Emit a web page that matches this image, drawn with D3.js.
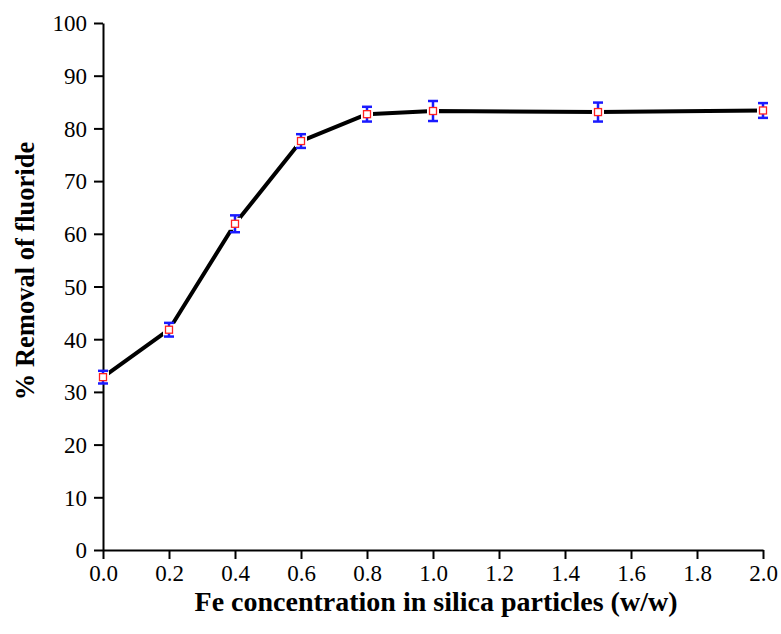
<!DOCTYPE html>
<html>
<head>
<meta charset="utf-8">
<script src="https://cdnjs.cloudflare.com/ajax/libs/d3/7.8.5/d3.min.js"></script>
<style>
body { margin: 0; background: #fff; }
svg text { font-family: "Liberation Serif", "Times New Roman", serif; }
</style>
</head>
<body>
<script>
var w = 781, h = 634;
var margin = {"left": 103, "right": 18, "top": 23, "bottom": 84};

var feConc = [0.0, 0.2, 0.4, 0.6, 0.8, 1.0, 1.5, 2.0];
var removal = [32.8, 41.8, 61.9, 77.6, 82.7, 83.3, 83.1, 83.4];
var errors = [1.2, 1.3, 1.6, 1.3, 1.4, 1.9, 1.8, 1.4];
var xTicks = [0, 0.2, 0.4, 0.6, 0.8, 1.0, 1.2, 1.4, 1.6, 1.8, 2.0];
var yTicks = [0, 10, 20, 30, 40, 50, 60, 70, 80, 90, 100];

var svg = d3.select("body")
            .append("svg")
            .attr("width", w)
            .attr("height", h);

var xScale = d3.scaleLinear()
                .domain([0, 2])
                .range([margin.left, w - margin.right]);
var yScale = d3.scaleLinear()
                .domain([0, 100])
                .range([h - margin.bottom, margin.top]);

var xAxis = d3.axisBottom(xScale)
                .tickValues(xTicks)
                .tickFormat(d3.format(".1f"))
                .tickSize(9)
                .tickSizeOuter(0)
                .tickPadding(6);
var yAxis = d3.axisLeft(yScale)
                .tickValues(yTicks)
                .tickSize(9)
                .tickSizeOuter(0)
                .tickPadding(7);

var gx = svg.append("g")
    .attr("transform", "translate(0," + (h - margin.bottom) + ")")
    .call(xAxis);
var gy = svg.append("g")
    .attr("transform", "translate(" + margin.left + ",0)")
    .call(yAxis);

[gx, gy].forEach(function(g){
    g.attr("font-family", null);
    g.selectAll("path, line").attr("stroke", "#000").attr("stroke-width", 2);
    g.selectAll("text").attr("fill", "#000").style("font-size", "23px");
});
gy.selectAll("text").attr("dy", "0.34em");

// line
var pts = feConc.map(function(d, i){ return [d, removal[i]]; });
var line = d3.line()
    .x(function(d){ return xScale(d[0]); })
    .y(function(d){ return yScale(d[1]); });

svg.append("path")
    .datum(pts)
    .attr("d", line)
    .attr("fill", "none")
    .attr("stroke", "#000")
    .attr("stroke-width", 4)
    .attr("stroke-linejoin", "round");

// white halo around markers
svg.selectAll("rect.halo")
    .data(pts)
    .enter()
    .append("rect")
    .attr("x", function(d){ return xScale(d[0]) - 6; })
    .attr("y", function(d){ return yScale(d[1]) - 6; })
    .attr("width", 12)
    .attr("height", 12)
    .attr("fill", "#fff");

// error bars
var eb = svg.append("g").attr("stroke", "#1a1aff").attr("stroke-width", 2.5);
pts.forEach(function(d, i){
    var cx = xScale(d[0]);
    var yHi = yScale(d[1] + errors[i]);
    var yLo = yScale(d[1] - errors[i]);
    eb.append("line").attr("x1", cx).attr("x2", cx).attr("y1", yHi).attr("y2", yLo);
    eb.append("line").attr("x1", cx - 5).attr("x2", cx + 5).attr("y1", yHi).attr("y2", yHi);
    eb.append("line").attr("x1", cx - 5).attr("x2", cx + 5).attr("y1", yLo).attr("y2", yLo);
});

// markers
svg.selectAll("rect.marker")
    .data(pts)
    .enter()
    .append("rect")
    .attr("x", function(d){ return xScale(d[0]) - 3.5; })
    .attr("y", function(d){ return yScale(d[1]) - 3.5; })
    .attr("width", 7)
    .attr("height", 7)
    .attr("fill", "#fff")
    .attr("stroke", "#ff2020")
    .attr("stroke-width", 1.3);

// titles
svg.append("text")
    .attr("x", 436)
    .attr("y", 611)
    .attr("text-anchor", "middle")
    .style("font-size", "28px")
    .style("font-weight", "bold")
    .text("Fe concentration in silica particles (w/w)");

svg.append("text")
    .attr("transform", "translate(34,271) rotate(-90)")
    .attr("text-anchor", "middle")
    .style("font-size", "26.5px")
    .style("font-weight", "bold")
    .text("% Removal of fluoride");
</script>
</body>
</html>
